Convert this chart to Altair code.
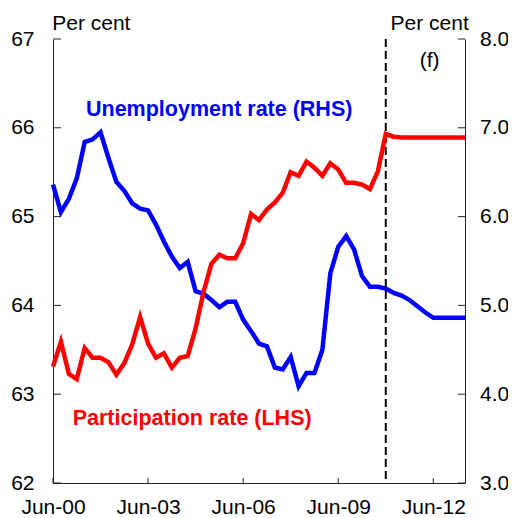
import altair as alt
import pandas as pd

# quarter index: 0 = Jun-00, 52 = Jun-13
quarters = list(range(53))

participation = [
    63.31, 63.59, 63.23, 63.17, 63.52, 63.41, 63.41, 63.36, 63.22, 63.35,
    63.56, 63.87, 63.57, 63.41, 63.46, 63.30, 63.41, 63.43, 63.74, 64.15,
    64.47, 64.57, 64.53, 64.53, 64.70, 65.03, 64.96, 65.08, 65.16, 65.27,
    65.50, 65.46, 65.62, 65.55, 65.46, 65.60, 65.53, 65.38, 65.38, 65.36,
    65.31, 65.51, 65.93, 65.90, 65.89, 65.89, 65.89, 65.89, 65.89, 65.89,
    65.89, 65.89, 65.89,
]

unemployment = [
    6.36, 6.05, 6.20, 6.43, 6.84, 6.87, 6.95, 6.66, 6.39, 6.29,
    6.15, 6.09, 6.07, 5.91, 5.72, 5.55, 5.42, 5.49, 5.16, 5.13,
    5.06, 4.98, 5.04, 5.04, 4.84, 4.71, 4.57, 4.54, 4.30, 4.28,
    4.42, 4.09, 4.24, 4.24, 4.50, 5.36, 5.66, 5.78, 5.63, 5.33,
    5.21, 5.21, 5.19, 5.14, 5.11, 5.06, 4.99, 4.92, 4.86, 4.86,
    4.86, 4.86, 4.86,
]

tick_q = [0, 12, 24, 36, 48]
tick_labels = ["Jun-00", "Jun-03", "Jun-06", "Jun-09", "Jun-12"]
forecast_start = [42]
left_ticks = [62, 63, 64, 65, 66, 67]
right_ticks = [3, 4, 5, 6, 7, 8]
left_domain = [62, 67]
right_domain = [3, 8]

annotation_text = ["Unemployment rate (RHS)", "Participation rate (LHS)", "(f)"]

FONT = "Liberation Sans"
AXIS_COLOR = "#222222"
W, H = 412, 444

df = pd.DataFrame({"q": quarters, "part": participation, "unemp": unemployment})

label_list = "[" + ",".join("'" + t + "'" for t in tick_labels) + "]"
q_list = "[" + ",".join(str(v) for v in tick_q) + "]"

x_enc = alt.X(
    "q:Q",
    scale=alt.Scale(domain=[0, 52], nice=False, zero=False),
    axis=alt.Axis(
        values=tick_q,
        labelExpr=f"{label_list}[indexof({q_list}, datum.value)]",
        title=None,
        grid=False,
        ticks=False,
        tickSize=0,
        labelPadding=30,
        labelBaseline="alphabetic",
        labelFlush=False,
    ),
)

blue = alt.Chart(df).mark_line(color="#0000FF", strokeWidth=4.5).encode(
    x=x_enc,
    y=alt.Y(
        "unemp:Q",
        scale=alt.Scale(domain=right_domain, nice=False, zero=False),
        axis=alt.Axis(
            orient="right",
            values=right_ticks,
            format=".1f",
            grid=False,
            ticks=False,
            tickSize=0,
            labelPadding=14.5,
            title="Per cent",
            titleAngle=0,
            titleAlign="right",
            titleBaseline="alphabetic",
            titleX=3.3,
            titleY=-9.7,
            titleFontWeight="normal",
        ),
    ),
)

red = alt.Chart(df).mark_line(color="#FF0000", strokeWidth=4.5).encode(
    x=x_enc,
    y=alt.Y(
        "part:Q",
        scale=alt.Scale(domain=left_domain, nice=False, zero=False),
        axis=alt.Axis(
            orient="left",
            values=left_ticks,
            format="d",
            grid=False,
            ticks=False,
            tickSize=0,
            labelPadding=19,
            title="Per cent",
            titleAngle=0,
            titleAlign="left",
            titleBaseline="alphabetic",
            titleX=-1.3,
            titleY=-9.7,
            titleFontWeight="normal",
        ),
    ),
)

rule = alt.Chart(pd.DataFrame({"q": forecast_start})).mark_rule(
    color="#000000", strokeWidth=2, strokeDash=[8, 4]
).encode(x="q:Q")

# inward tick marks
left_tick_marks = alt.Chart(pd.DataFrame({"v": left_ticks})).mark_rule(
    color=AXIS_COLOR, strokeWidth=1
).encode(
    y=alt.Y("v:Q", scale=alt.Scale(domain=left_domain, nice=False, zero=False), axis=None),
    x=alt.value(0), x2=alt.value(8),
)
right_tick_marks = alt.Chart(pd.DataFrame({"v": right_ticks})).mark_rule(
    color=AXIS_COLOR, strokeWidth=1
).encode(
    y=alt.Y("v:Q", scale=alt.Scale(domain=right_domain, nice=False, zero=False), axis=None),
    x=alt.value(W - 7), x2=alt.value(W),
)
x_tick_marks = alt.Chart(pd.DataFrame({"q": tick_q})).mark_rule(
    color=AXIS_COLOR, strokeWidth=1
).encode(
    x=x_enc,
    y=alt.value(H - 5), y2=alt.value(H),
)

unemp_label = alt.Chart(pd.DataFrame({"t": [annotation_text[0]]})).mark_text(
    font=FONT, fontSize=21.5, fontWeight="bold", color="#0000FF",
    align="left", baseline="alphabetic",
).encode(text="t:N", x=alt.value(33), y=alt.value(77.4))

part_label = alt.Chart(pd.DataFrame({"t": [annotation_text[1]]})).mark_text(
    font=FONT, fontSize=21.5, fontWeight="bold", color="#FF0000",
    align="left", baseline="alphabetic",
).encode(text="t:N", x=alt.value(19.7), y=alt.value(386))

f_label = alt.Chart(pd.DataFrame({"t": [annotation_text[2]]})).mark_text(
    font=FONT, fontSize=21, color="#000000",
    align="center", baseline="alphabetic",
).encode(text="t:N", x=alt.value(376.7), y=alt.value(28.3))

right_layer = alt.layer(blue)
left_layer = alt.layer(rule, red)

chart = (
    alt.layer(
        right_layer, left_layer, left_tick_marks, right_tick_marks, x_tick_marks,
        unemp_label, part_label, f_label,
    )
    .resolve_scale(y="independent")
    .properties(
        width=W,
        height=H,
        autosize=alt.AutoSizeParams(type="none"),
        padding={"left": 45, "top": 31, "right": 43, "bottom": 35},
    )
    .configure_view(stroke=None)
    .configure_axis(
        labelFont=FONT,
        labelFontSize=21,
        labelColor="#000000",
        titleFont=FONT,
        titleFontSize=21,
        titleColor="#000000",
        domainColor=AXIS_COLOR,
        domainWidth=1,
    )
)

chart.save("out.html", embed_options={"renderer": "svg", "actions": False})
